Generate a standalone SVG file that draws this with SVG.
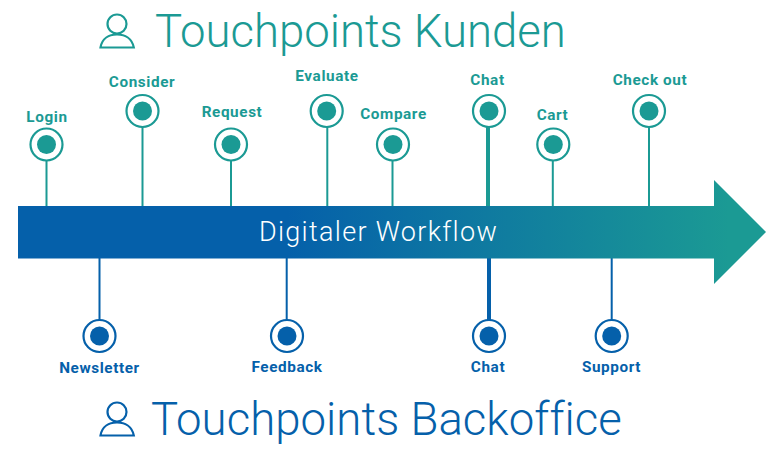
<svg xmlns="http://www.w3.org/2000/svg" width="780" height="450" viewBox="0 0 780 450">
<style>
text{font-family:Roboto,"Liberation Sans",sans-serif}
.t{fill:#1b9a94}.b{fill:#0560aa}
.title{font-size:45.500px;font-weight:300}
.lab{font-size:15.300px;font-weight:700;text-anchor:middle;letter-spacing:.6px}
.ring{fill:#fff;stroke-width:2.200}
.rt{stroke:#1b9a94}.rb{stroke:#0560aa}
.c{stroke-width:2;fill:none}
.icon{fill:none;stroke-width:2.200}
</style>
<defs>
<linearGradient id="flow" gradientUnits="userSpaceOnUse" x1="18" y1="0" x2="766" y2="0">
<stop offset="0" stop-color="#0560aa"/><stop offset=".36" stop-color="#0560aa"/><stop offset=".95" stop-color="#1b9a94"/><stop offset="1" stop-color="#1b9a94"/>
</linearGradient>
</defs>
<g id="connectors">
<path class="c rt" d="M46.500 160V206M142.500 127V206M231 160V206M327.300 127V206M392.500 160V206M552.800 160V206M649 127V206"/>
<path class="rt" stroke-width="4" d="M488 127V206"/>
<path class="c rb" d="M99.500 258V320M286.700 258V320M611.700 258V320"/>
<path class="rb" stroke-width="4" d="M489 258V320"/>
</g>
<g id="workflow">
<path fill="url(#flow)" d="M18 206H714V180L766 232L714 284V258.500H18Z"/>
<text x="378.500" y="241" text-anchor="middle" font-size="27" font-weight="300" letter-spacing="1.320" fill="#fff">Digitaler Workflow</text>
</g>
<g id="title-kunden">
<g class="icon rt"><circle cx="117" cy="24" r="9.500"/><path d="M100.500 47.500C102 38.500 109 34.500 117 34.500S132 38.500 133.800 47.500Z"/></g>
<text class="title t" x="155" y="47">Touchpoints Kunden</text>
</g>
<g id="title-backoffice">
<g class="icon rb"><circle cx="117" cy="412" r="9.500"/><path d="M100.500 435.500C102 426.500 109 422.500 117 422.500S132 426.500 133.800 435.500Z"/></g>
<text class="title b" x="151" y="435" letter-spacing=".06">Touchpoints Backoffice</text>
</g>
<g id="n-login"><circle class="ring rt" cx="46.500" cy="144.500" r="16"/><circle class="t" cx="46.500" cy="144.500" r="9.500"/><text class="lab t" x="47" y="122">Login</text></g>
<g id="n-consider"><circle class="ring rt" cx="142.500" cy="111" r="16"/><circle class="t" cx="142.500" cy="111" r="9.500"/><text class="lab t" x="142" y="87">Consider</text></g>
<g id="n-request"><circle class="ring rt" cx="231" cy="144.500" r="16"/><circle class="t" cx="231" cy="144.500" r="9.500"/><text class="lab t" x="232" y="116.500">Request</text></g>
<g id="n-evaluate"><circle class="ring rt" cx="326.700" cy="111" r="16"/><circle class="t" cx="326.700" cy="111" r="9.500"/><text class="lab t" x="327" y="81">Evaluate</text></g>
<g id="n-compare"><circle class="ring rt" cx="393" cy="144.500" r="16"/><circle class="t" cx="393" cy="144.500" r="9.500"/><text class="lab t" x="393.500" y="119">Compare</text></g>
<g id="n-chat-top"><circle class="ring rt" cx="489" cy="111" r="16"/><circle class="t" cx="489" cy="111" r="9.500"/><text class="lab t" x="487.500" y="85">Chat</text></g>
<g id="n-cart"><circle class="ring rt" cx="553.300" cy="144.500" r="16"/><circle class="t" cx="553.300" cy="144.500" r="9.500"/><text class="lab t" x="552.500" y="120">Cart</text></g>
<g id="n-checkout"><circle class="ring rt" cx="649" cy="111" r="16"/><circle class="t" cx="649" cy="111" r="9.500"/><text class="lab t" x="650" y="85">Check out</text></g>
<g id="n-newsletter"><circle class="ring rb" cx="99.500" cy="336" r="16"/><circle class="b" cx="99.500" cy="336" r="9.500"/><text class="lab b" x="99.500" y="373">Newsletter</text></g>
<g id="n-feedback"><circle class="ring rb" cx="287" cy="336" r="16"/><circle class="b" cx="287" cy="336" r="9.500"/><text class="lab b" x="287" y="372">Feedback</text></g>
<g id="n-chat-bottom"><circle class="ring rb" cx="489" cy="336" r="16"/><circle class="b" cx="489" cy="336" r="9.500"/><text class="lab b" x="488" y="372">Chat</text></g>
<g id="n-support"><circle class="ring rb" cx="611.700" cy="336" r="16"/><circle class="b" cx="611.700" cy="336" r="9.500"/><text class="lab b" x="611.500" y="372">Support</text></g>
</svg>
